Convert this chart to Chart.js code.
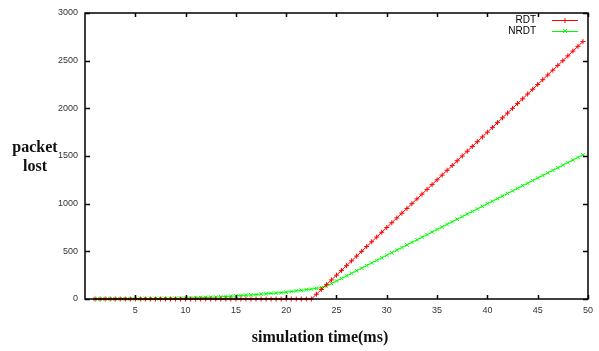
<!DOCTYPE html>
<html>
<head>
<meta charset="utf-8">
<script src="https://cdn.jsdelivr.net/npm/chart.js@4"></script>
<style>
    html, body { margin: 0; padding: 0; background: #fff; }
    #wrap { position: relative; width: 599px; height: 351px; }
    .title { position: absolute; font-family: "Liberation Serif", "DejaVu Serif", serif; font-weight: bold; color: #111; }
    #ytitle { left: 0px; top: 137px; width: 70px; text-align: center; font-size: 16px; line-height: 19px; }
    #xtitle { left: 105px; width: 430px; top: 328px; text-align: center; font-size: 16px; }
</style>
</head>
<body>
<div id="wrap">
    <canvas id="chart" width="599" height="351"></canvas>
    <div id="ytitle" class="title">packet<br>lost</div>
    <div id="xtitle" class="title">simulation time(ms)</div>
</div>
<script>
// czas symulacji (ms)
const times = [1, 1.5, 2, 2.5, 3, 3.5, 4, 4.5, 5, 5.5, 6, 6.5, 7, 7.5, 8, 8.5, 9, 9.5, 10, 10.5,
    11, 11.5, 12, 12.5, 13, 13.5, 14, 14.5, 15, 15.5, 16, 16.5, 17, 17.5, 18, 18.5, 19, 19.5, 20, 20.5,
    21, 21.5, 22, 22.5, 23, 23.5, 24, 24.5, 25, 25.5, 26, 26.5, 27, 27.5, 28, 28.5, 29, 29.5, 30, 30.5,
    31, 31.5, 32, 32.5, 33, 33.5, 34, 34.5, 35, 35.5, 36, 36.5, 37, 37.5, 38, 38.5, 39, 39.5, 40, 40.5,
    41, 41.5, 42, 42.5, 43, 43.5, 44, 44.5, 45, 45.5, 46, 46.5, 47, 47.5, 48, 48.5, 49, 49.5];

const rdtLost = [0, 0, 0, 0, 0, 0, 0, 0, 0, 0, 0, 0, 0, 0, 0, 0, 0, 0, 0, 0,
    0, 0, 0, 0, 0, 0, 0, 0, 0, 0, 0, 0, 0, 0, 0, 0, 0, 0, 0, 0,
    0, 0, 0, 0, 50, 100, 150, 200, 250, 300, 350, 400, 450, 500, 550, 600, 650, 700, 750, 800,
    850, 900, 950, 1000, 1050, 1100, 1150, 1200, 1250, 1300, 1350, 1400, 1450, 1500, 1550, 1600, 1650, 1700, 1750, 1800,
    1850, 1900, 1950, 2000, 2050, 2100, 2150, 2200, 2250, 2300, 2350, 2400, 2450, 2500, 2550, 2600, 2650, 2700];

const nrdtLost = [0, 0, 1, 1, 1, 2, 2, 2, 3, 3, 4, 4, 5, 6, 6, 7, 8, 9, 10, 11,
    13, 14, 16, 18, 20, 23, 26, 29, 32, 36, 40, 43, 47, 51, 55, 59, 63, 67, 72, 78,
    85, 91, 97, 104, 112, 120, 135, 162, 189, 216, 243, 270, 297, 324, 351, 378, 405, 432, 459, 486,
    513, 540, 567, 594, 621, 648, 675, 702, 729, 756, 783, 810, 837, 864, 891, 918, 945, 972, 999, 1026,
    1053, 1080, 1107, 1134, 1161, 1188, 1215, 1242, 1269, 1296, 1323, 1350, 1377, 1404, 1431, 1458, 1485, 1512];

const seriesNames = ["RDT", "NRDT"];
const seriesColors = ["#ff0000", "#00ff00"];
const seriesMarkers = ["cross", "crossRot"];

const xTicks = [5, 10, 15, 20, 25, 30, 35, 40, 45, 50];
const yTicks = [0, 500, 1000, 1500, 2000, 2500, 3000];

const toPoints = (vals) => vals.map((v, i) => ({ x: times[i], y: v }));

// ramka i wewnętrzne znaczniki osi (styl gnuplota)
const frameTicks = {
    id: "frameTicks",
    afterDatasetsDraw(chart) {
        const { ctx, chartArea: a, scales } = chart;
        ctx.save();
        ctx.strokeStyle = "#000";
        ctx.lineWidth = 1.5;
        ctx.strokeRect(a.left, a.top, a.right - a.left, a.bottom - a.top);
        ctx.beginPath();
        xTicks.forEach(t => {
            const px = Math.round(scales.x.getPixelForValue(t)) + 0.5;
            ctx.moveTo(px, a.bottom); ctx.lineTo(px, a.bottom - 4);
            ctx.moveTo(px, a.top); ctx.lineTo(px, a.top + 4);
        });
        yTicks.forEach(t => {
            const py = Math.round(scales.y.getPixelForValue(t)) + 0.5;
            ctx.moveTo(a.left, py); ctx.lineTo(a.left + 5, py);
            ctx.moveTo(a.right, py); ctx.lineTo(a.right - 5, py);
        });
        ctx.stroke();

        // legenda w prawym górnym rogu
        ctx.font = "10px 'Liberation Sans Narrow', 'Liberation Sans', sans-serif";
        ctx.textAlign = "right";
        ctx.textBaseline = "middle";
        seriesNames.forEach((name, i) => {
            const y = a.top + 7 + i * 11;
            ctx.fillStyle = "#000";
            ctx.fillText(name, a.right - 52, y);
            ctx.strokeStyle = seriesColors[i];
            ctx.lineWidth = 1;
            ctx.beginPath();
            ctx.moveTo(a.right - 36, y + 0.5);
            ctx.lineTo(a.right - 10, y + 0.5);
            ctx.stroke();
            ctx.beginPath();
            const mx = a.right - 23;
            if (i === 0) {
                ctx.moveTo(mx, y - 2); ctx.lineTo(mx, y + 3);
            } else {
                ctx.moveTo(mx - 2, y - 2); ctx.lineTo(mx + 2, y + 2);
                ctx.moveTo(mx + 2, y - 2); ctx.lineTo(mx - 2, y + 2);
            }
            ctx.stroke();
        });
        ctx.restore();
    }
};

new Chart(document.getElementById("chart"), {
    type: "line",
    data: {
        datasets: [rdtLost, nrdtLost].map((vals, i) => ({
            label: seriesNames[i],
            data: toPoints(vals),
            borderColor: seriesColors[i],
            backgroundColor: seriesColors[i],
            borderWidth: 1,
            pointStyle: seriesMarkers[i],
            pointRadius: 2.5,
            pointBorderWidth: 1,
            tension: 0,
            clip: false,
        })),
    },
    options: {
        responsive: false,
        animation: false,
        layout: { padding: { top: 13, right: 4, left: 0, bottom: 0 } },
        plugins: { legend: { display: false }, tooltip: { enabled: false } },
        scales: {
            x: {
                type: "linear",
                min: 0,
                max: 50,
                grid: { display: false, drawTicks: false },
                border: { display: false },
                afterBuildTicks: (s) => { s.ticks = xTicks.map(v => ({ value: v })); },
                afterFit: (s) => { s.height = 52; },
                ticks: {
                    color: "#333",
                    padding: 6,
                    maxRotation: 0,
                    callback: (v) => String(v),
                    font: { family: "'Liberation Sans', sans-serif", size: 9 },
                },
            },
            y: {
                min: 0,
                max: 3000,
                grid: { display: false, drawTicks: false },
                border: { display: false },
                afterBuildTicks: (s) => { s.ticks = yTicks.map(v => ({ value: v })); },
                afterFit: (s) => { s.width = 85; },
                ticks: {
                    color: "#333",
                    padding: 7,
                    callback: (v) => String(v),
                    font: { family: "'Liberation Sans', sans-serif", size: 9 },
                },
            },
        },
    },
    plugins: [frameTicks],
});
</script>
</body>
</html>
